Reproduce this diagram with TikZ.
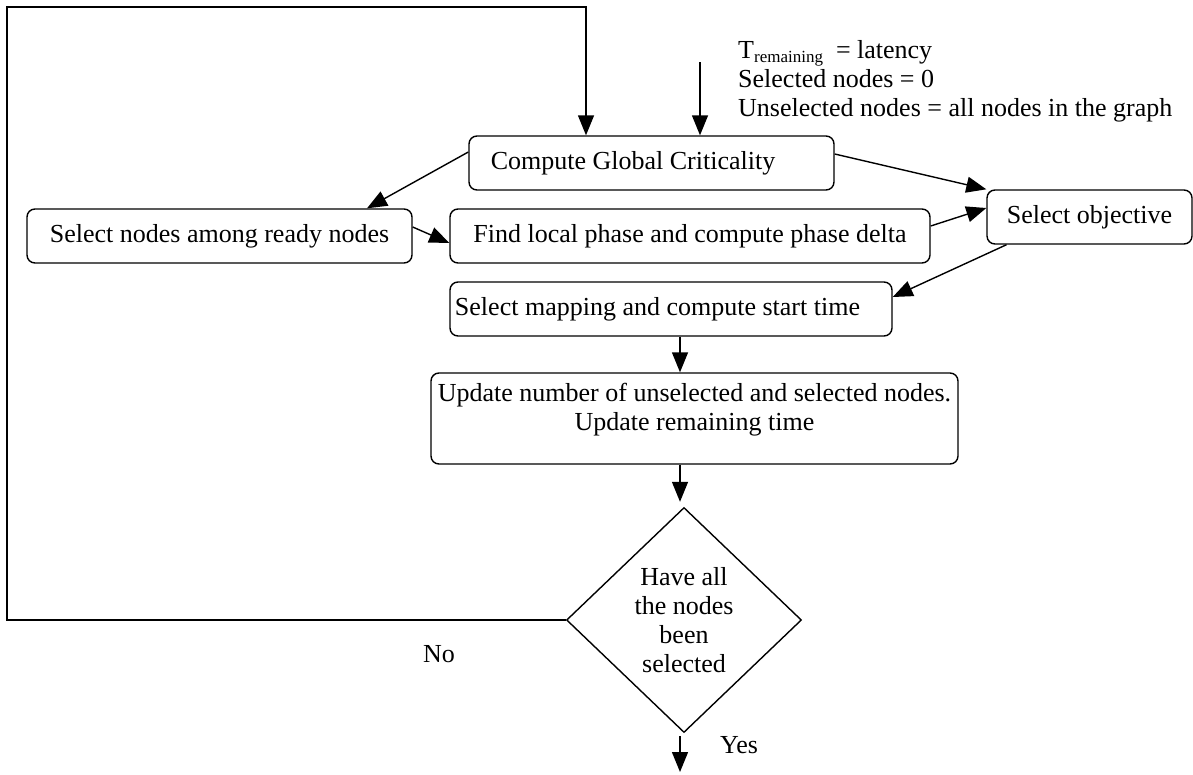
\documentclass[tikz,border=0pt]{standalone}
\usepackage{fontspec}
\setmainfont{Liberation Serif}
\usetikzlibrary{arrows.meta,shapes.geometric,calc}
\begin{document}
\begin{tikzpicture}[x=1pt,y=-1pt,
  every node/.style={font=\fontsize{26}{29}\selectfont},
  box/.style={draw, line width=1.4pt, rounded corners=8pt, inner sep=0pt, minimum height=54pt},
  decision/.style={draw, diamond, line width=1.4pt, inner sep=0pt, align=center},
  arr/.style={line width=1.4pt, -{Triangle[length=20pt,width=16pt]}},
  lbl/.style={inner sep=0pt}]
\useasboundingbox (0,0) rectangle (1193,774);

% boxes
\node[box, minimum width=365pt] (cg) at (651.5,163) {Compute Global Criticality\hspace*{37pt}};
\node[box, minimum width=385pt] (sn) at (219.5,236) {Select nodes among ready nodes};
\node[box, minimum width=480pt] (fl) at (690,236) {Find local phase and compute phase delta};
\node[box, minimum width=205pt] (so) at (1089.5,217) {Select objective};
\node[box, minimum width=442pt] (sm) at (671,309) {Select mapping and compute start time\hspace*{27pt}};
\node[box, minimum width=527pt, minimum height=91pt, align=center] (up) at (694.5,418.5)
  {Update number of unselected and selected nodes.\\Update remaining time\\[-6pt]};
\node[decision, minimum width=235pt, minimum height=225pt] (d) at (684,620)
  {Have all\\the nodes\\been\\selected};

% initial text
\node[lbl, anchor=north west, align=left] (init) at (738,40.5)
  {T\raisebox{-4pt}{\fontsize{17}{17}\selectfont remaining}\ \ = latency\\
   Selected nodes = 0\\
   Unselected nodes = all nodes in the graph};

% labels
\node[lbl] (no) at (439,654) {No};
\node[lbl] (yes) at (739,745) {Yes};

% coordinates
\coordinate (st) at (700,62);
\coordinate (lp1) at (7,7);
\coordinate (lp2) at (586,7);
\coordinate (out) at (680,772);

% connectors
\draw[arr] (st) -- (st |- cg.north);
\draw[arr] (d.west) -| (lp1) -- (lp2) -- (lp2 |- cg.north);
\draw[arr] ([yshift=11pt]cg.west) -- ([xshift=147.5pt]sn.north);
\draw[arr] ([yshift=9pt]sn.east) -- ([yshift=-7pt]fl.west);
\draw[arr] ([yshift=9pt]cg.east) -- (so.north west);
\draw[arr] ([yshift=10pt]fl.east) -- ([yshift=9pt]so.west);
\draw[arr] ([xshift=-83pt]so.south) -- ([yshift=12pt]sm.east);
\draw[arr] ([xshift=9pt]sm.south) coordinate (a) -- (a |- up.north);
\draw[arr, shorten >=5pt] ([xshift=-14.5pt]up.south) coordinate (b) -- (b |- d.north);
\draw[arr, shorten <=3pt] (out |- d.south) -- (out);
\end{tikzpicture}
\end{document}
